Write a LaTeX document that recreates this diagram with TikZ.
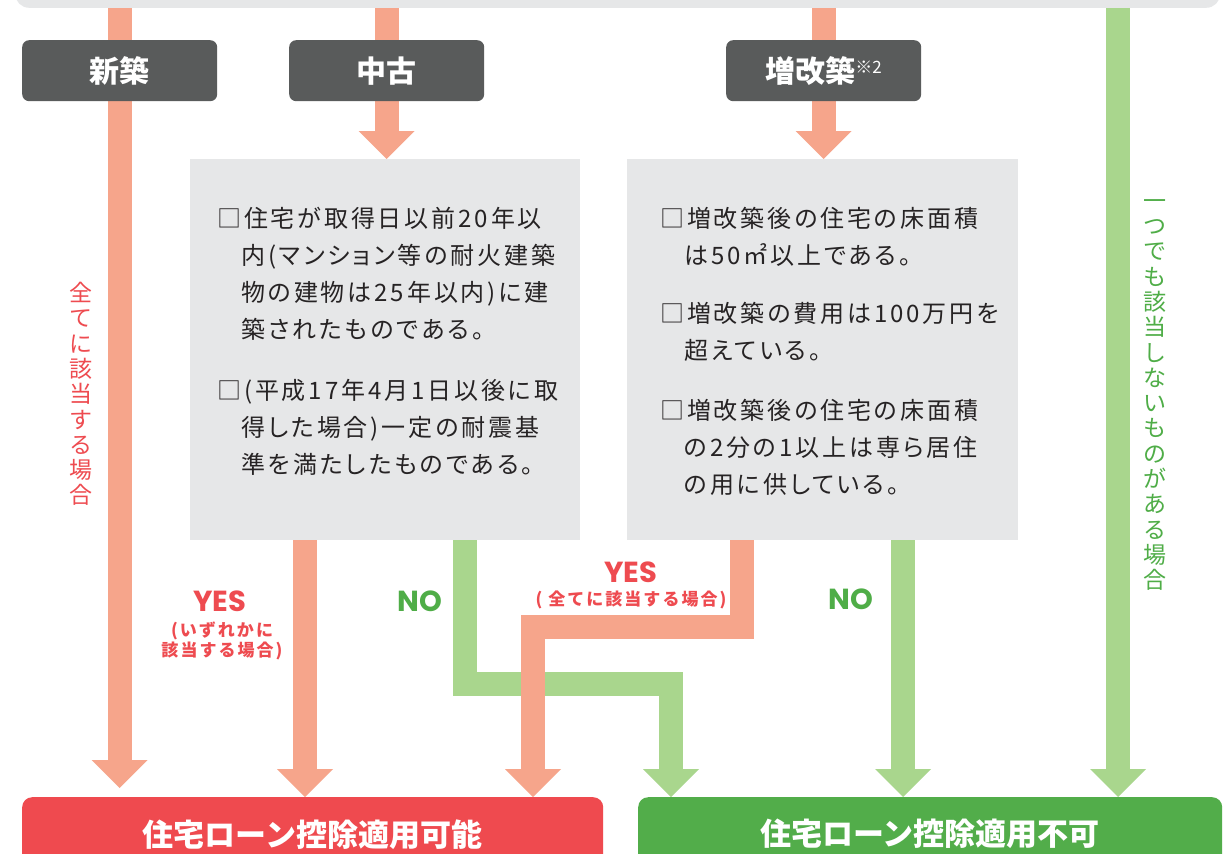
\documentclass[tikz,border=0pt]{standalone}
\usepackage{fontspec}
\setmainfont{Noto Sans CJK JP}
\newfontfamily\jp{Noto Sans CJK JP}
\newfontfamily\jpsp[LetterSpace=12,RawFeature=+palt]{Noto Sans CJK JP}
\newfontfamily\jpsm[LetterSpace=12]{Noto Sans CJK JP}
\newfontfamily\lat{Poppins}
\usetikzlibrary{arrows.meta,calc}
\pgfdeclarelayer{back}
\pgfdeclarelayer{bg}
\pgfsetlayers{back,bg,main}
\definecolor{salmon}{HTML}{F6A58B}
\definecolor{lgreen}{HTML}{A9D68D}
\definecolor{dgray}{HTML}{595B5B}
\definecolor{lgray}{HTML}{E6E7E8}
\definecolor{okred}{HTML}{EF4A4F}
\definecolor{nggreen}{HTML}{52AD4A}
\definecolor{txtred}{HTML}{EE4B50}
\definecolor{txtgreen}{HTML}{4FAD47}
\definecolor{condcol}{HTML}{262324}
\tikzset{
  kindbox/.style={fill=dgray, rounded corners=7pt, minimum width=195pt, minimum height=61pt, inner sep=0pt, anchor=north west, text=white, font=\jp\bfseries\fontsize{30}{30}\selectfont},
  condbox/.style={fill=lgray, inner sep=0pt, anchor=north west, minimum height=381pt},
  condtext/.style={anchor=north west, inner sep=0pt, align=left, text=condcol, font=\jpsp\fontsize{24}{37}\selectfont},
  resbox/.style={rounded corners=10pt, minimum height=74pt, inner sep=0pt, anchor=north west, text=white, font=\jp\bfseries\fontsize{31}{31}\selectfont},
  shaftS/.style={draw=salmon, line width=24pt},
  shaftG/.style={draw=lgreen, line width=24pt},
  arrS/.style={shaftS, -{Triangle[width=56pt,length=28pt,line width=0pt]}},
  arrG/.style={shaftG, -{Triangle[width=56pt,length=28pt,line width=0pt]}},
  yeslbl/.style={text=txtred, inner sep=0pt, font=\lat\bfseries\fontsize{29}{29}\selectfont},
  nolbl/.style={text=txtgreen, inner sep=0pt, font=\lat\bfseries\fontsize{29}{29}\selectfont},
  sublbl/.style={text=txtred, align=center, inner sep=0pt, font=\jpsm\bfseries\fontsize{17}{20}\selectfont},
  vlbl/.style={align=center, inner sep=0pt, font=\jp\fontsize{23}{25.3}\selectfont},
}
\begin{document}
\begin{tikzpicture}[x=1pt,y=-1pt]
\useasboundingbox (0,0) rectangle (1232,854);
\begin{pgfonlayer}{back}
\fill[white] (0,0) rectangle (1232,854);
\end{pgfonlayer}

% top banner
\node[fill=lgray, rounded corners=14pt, minimum width=1205pt, minimum height=50pt, anchor=south west, inner sep=0pt] (banner) at (15,8) {};

% kind boxes
\node[kindbox] (shin) at (22,40) {新築};
\node[kindbox] (chuko) at (289,40) {中古};
\node[kindbox] (zou) at (726,40) {増改築\raisebox{9pt}{\mdseries\fontsize{17}{17}\selectfont ※2}};

% condition boxes
\node[condbox, minimum width=390pt] (c1) at (190,159) {};
\node[condbox, minimum width=391pt] (c2) at (627,159) {};

\node[condtext] (t1) at (217,207) {□住宅が取得日以前20年以\\
\phantom{□}内(マンション等の耐火建築\\
\phantom{□}物の建物は25年以内)に建\\
\phantom{□}築されたものである。\\[24pt]
□(平成17年4月1日以後に取\\
\phantom{□}得した場合)一定の耐震基\\
\phantom{□}準を満たしたものである。};

\node[condtext] (t2) at (660,207) {□増改築後の住宅の床面積\\
\phantom{□}は50㎡以上である。\\[21pt]
□増改築の費用は100万円を\\
\phantom{□}超えている。\\[23pt]
□増改築後の住宅の床面積\\
\phantom{□}の2分の1以上は専ら居住\\
\phantom{□}の用に供している。};

% result boxes
\node[resbox, fill=okred, minimum width=581pt] (ok) at (22,797) {住宅ローン控除適用可能};
\node[resbox, fill=nggreen, minimum width=584pt] (ng) at (638,797) {住宅ローン控除適用不可};

% helper coordinates
\coordinate (xa) at (305,0);
\coordinate (xb) at (465,0);
\coordinate (xc) at (671,0);
\coordinate (xd) at (742,0);
\coordinate (xe) at (533,0);
\coordinate (xf) at (903,0);
\coordinate (xg) at (1118,0);
\coordinate (yb) at (0,684);
\coordinate (ye) at (0,627);

\begin{pgfonlayer}{bg}
\draw[arrS] (banner.south -| shin) -- ($(ok.north -| shin)+(0,-9)$);
\draw[shaftS] (banner.south -| chuko) -- (chuko.north);
\draw[arrS] (chuko.south) -- (c1.north -| chuko);
\draw[shaftS] (banner.south -| zou) -- (zou.north);
\draw[arrS] (zou.south) -- (c2.north -| zou);
\draw[arrS] (c1.south -| xa) -- (ok.north -| xa);
\draw[arrG] (c1.south -| xb) -- (xb |- yb) -- (xc |- yb) -- (ng.north -| xc);
\draw[arrS] (c2.south -| xd) -- (xd |- ye) -- (xe |- ye) -- (ok.north -| xe);
\draw[arrG] (c2.south -| xf) -- (ng.north -| xf);
\draw[arrG] (banner.south -| xg) -- (ng.north -| xg);
\end{pgfonlayer}

% labels
\node[vlbl, text=txtred] (lall) at (81,394) {全\\て\\に\\該\\当\\す\\る\\場\\合};
\node[vlbl, text=txtgreen] (lnone) at (1155,395) {一\\つ\\で\\も\\該\\当\\し\\な\\い\\も\\の\\が\\あ\\る\\場\\合};
\node[yeslbl] (yes1) at (220,601) {YES};
\node[sublbl] (sub1) at (222,641) {(いずれかに\\該当する場合)};
\node[nolbl] (no1) at (420,601) {NO};
\node[yeslbl] (yes2) at (631,572) {YES};
\node[sublbl] (sub2) at (631,600) {( 全てに該当する場合)};
\node[nolbl] (no2) at (851,599) {NO};
\end{tikzpicture}
\end{document}
